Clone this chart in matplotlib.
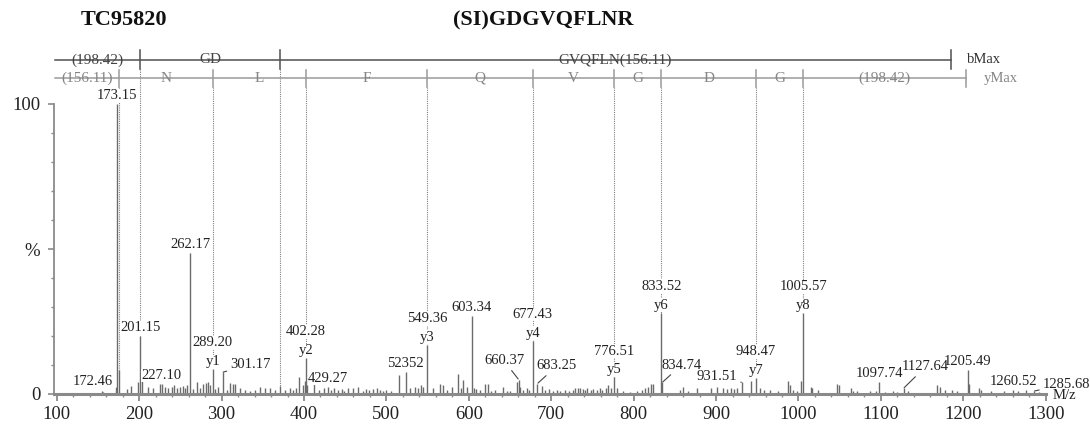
import matplotlib
matplotlib.use("Agg")
import matplotlib.pyplot as plt
from matplotlib.ticker import FixedLocator

plt.rcParams['font.family'] = ['Liberation Serif', 'DejaVu Serif']

# ---------------- data ----------------
title_left = "TC95820"
title_peptide = "(SI)GDGVQFLNR"

# labelled single peaks (m/z, intensity %, text)
plain_mz = [173.15, 201.15, 262.17, 227.10, 429.27, 523.52, 603.34, 1097.74, 1205.49, 1260.52]
plain_int = [100.0, 20.0, 48.7, 3.5, 2.5, 7.5, 27.0, 4.3, 8.4, 1.5]
plain_txt = ["173.15", "201.15", "262.17", "227.10", "429.27", "52352", "603.34", "1097.74", "1205.49", "1260.52"]

# labelled peaks with leader lines
lead_mz = [172.46, 301.17, 660.37, 683.25, 834.74, 931.51, 1127.64, 1285.68]
lead_int = [2.0, 7.5, 5.0, 3.6, 4.0, 4.0, 2.0, 1.0]
lead_txt = ["172.46", "301.17", "660.37", "683.25", "834.74", "931.51", "1127.64", "1285.68"]

# matched y ions
ion_mz = [289.20, 402.28, 549.36, 677.43, 776.51, 833.52, 948.47, 1005.57]
ion_int = [8.5, 12.3, 16.9, 18.3, 5.7, 28.0, 5.4, 27.8]
ion_name = ["y1", "y2", "y3", "y4", "y5", "y6", "y7", "y8"]

# unlabelled minor peaks
minor_mz = [154.6, 156.6, 175.12, 184.9, 189.8, 199.0, 203.0,
            211, 217, 225, 231.4, 235.4, 239.5, 242, 245.6, 249.6, 253, 256, 258, 265, 269.8,
            273.9, 277.7, 281.6, 284, 286, 292, 296, 306, 310, 314,
            316, 322, 328, 334, 340.5, 346.7, 352.8, 358.8, 365, 371, 377, 383, 387, 390,
            394.3, 398.5, 401.3,
            404, 412.2, 418, 424, 433, 437, 441, 446, 449, 453.8, 459.9, 466, 471, 475, 479,
            484, 488, 492, 496, 500, 505,
            515.7, 528.6, 535, 538, 542, 545, 557, 565, 569, 574, 579, 586.5, 590, 593, 597.5,
            606, 609, 613, 619.6, 623.7, 627, 631.8, 641.9, 646, 650, 658, 662, 666, 670, 673,
            688.4, 692, 697, 702, 707, 711,
            717, 721, 726.6, 729, 732, 735, 738, 741, 744, 748, 751, 755, 759, 762, 766, 769.3,
            773, 779.4, 787.5, 795,
            803.7, 809.8, 814, 818, 821, 824, 856, 860.2, 866.3, 877.3, 893.5,
            900.8, 908, 913, 918, 922, 926, 942, 953.3, 958, 965, 975, 987.6, 989.7, 993, 997.8,
            1003.5, 1015, 1017, 1024, 1046.4, 1049.5, 1063.7, 1066, 1070.6, 1086.8, 1094,
            1105, 1115, 1120, 1133.3, 1167.7, 1171.8, 1177.8, 1185.9, 1192, 1206.5, 1218.6,
            1221.8, 1233.9, 1250, 1266.3, 1276.3, 1292]
minor_int = [1.2, 0.8, 8.3, 1.7, 2.6, 4.0, 5.0,
             2.5, 2.0, 3.5, 2.5, 2.0, 2.5, 3.0, 2.2, 2.3, 2.8, 2.0, 3.0, 1.8, 4.0,
             2.0, 3.6, 3.8, 4.2, 3.2, 1.8, 2.5, 1.5, 3.9, 3.4,
             3.5, 2.0, 1.5, 1.2, 1.5, 2.5, 2.0, 2.0, 1.5, 2.7, 1.5, 2.0, 1.5, 2.0,
             6.0, 3.0, 4.5,
             3.0, 3.7, 1.5, 2.0, 1.5, 2.0, 1.5, 1.8, 1.2, 2.0, 2.0, 2.5, 1.2, 1.8, 1.5,
             1.8, 2.2, 1.5, 1.2, 1.5, 1.0,
             6.5, 2.0, 2.5, 2.0, 3.0, 2.5, 2.0, 3.5, 3.0, 1.5, 2.5, 6.8, 2.0, 4.8, 2.5,
             2.0, 1.8, 1.5, 3.6, 3.6, 1.2, 1.5, 2.5, 1.0, 1.2, 4.0, 2.5, 1.5, 2.0, 1.5,
             2.8, 1.5, 1.8, 1.2, 1.5, 1.0,
             1.5, 1.2, 1.5, 2.2, 2.0, 2.0, 1.8, 1.5, 2.0, 1.5, 1.8, 1.5, 2.0, 1.5, 2.0, 3.0,
             2.0, 2.0, 1.0, 0.8,
             1.0, 1.5, 2.0, 2.5, 3.5, 3.5, 1.5, 2.5, 1.0, 2.0, 2.0,
             2.5, 2.0, 1.8, 2.0, 1.8, 2.0, 4.5, 2.0, 1.5, 1.5, 1.0, 4.6, 3.0, 1.5, 1.2,
             4.5, 2.5, 2.0, 1.5, 3.5, 3.0, 2.0, 1.2, 1.0, 1.0, 1.0,
             0.8, 1.0, 0.8, 1.0, 3.0, 2.5, 1.5, 1.5, 1.0, 3.5, 2.0,
             1.5, 1.0, 1.0, 1.0, 1.5, 0.8]

# sequence ladders
b_bounds = [98, 201.15, 371.0, 1185]
b_labels = ["(198.42)", "GD", "GVQFLN(156.11)"]
y_bounds = [98, 175.12, 289.20, 402.28, 549.36, 677.43, 776.51, 833.52, 948.47, 1005.57, 1203]
y_labels = ["(156.11)", "N", "L", "F", "Q", "V", "G", "D", "G", "(198.42)"]

x_ticks = list(range(100, 1301, 100))

# ---------------- style ----------------
W, H = 1090, 429
fig = plt.figure(figsize=(W / 100, H / 100), dpi=100)
ax = fig.add_axes([54.3 / W, 1 - 394 / H, (1045.7 - 54.3) / W, 290 / H])
ax.set_xlim(97, 1300)
ax.set_ylim(0, 100)

PEAK = '#6b6b6b'
AXC = '#8a8a8a'
TXT = '#222222'
FS = 10.5

all_mz = plain_mz + lead_mz + ion_mz + minor_mz
all_int = plain_int + lead_int + ion_int + minor_int
ax.vlines(all_mz, 0, all_int, color=PEAK, lw=1.0, zorder=2)

def height_at(m):
    best = min(range(len(all_mz)), key=lambda i: abs(all_mz[i] - m))
    return all_int[best]

# ladders
B_Y, Y_Y = 115.2, 108.9
ax.plot([b_bounds[0], b_bounds[-1]], [B_Y, B_Y], color='#505050', lw=1.1, clip_on=False)
ax.plot([y_bounds[0], y_bounds[-1]], [Y_Y, Y_Y], color='#9a9a9a', lw=1.1, clip_on=False)
for m in b_bounds[1:]:
    ax.plot([m, m], [112.2, 118.7], color='#505050', lw=1.1, clip_on=False)
for m in y_bounds[1:]:
    ax.plot([m, m], [105.8, 111.8], color='#9a9a9a', lw=1.1, clip_on=False)
for m in b_bounds[1:-1]:
    ax.plot([m, m], [112.2, height_at(m)], color='#808080', lw=0.8, ls=(0, (1, 1)),
            clip_on=False, zorder=1)
for m in y_bounds[1:-1]:
    ax.plot([m, m], [105.8, height_at(m)], color='#808080', lw=0.8, ls=(0, (1, 1)),
            clip_on=False, zorder=1)
for i, lab in enumerate(b_labels):
    ax.text((b_bounds[i] + b_bounds[i + 1]) / 2, B_Y, lab, ha='center', va='center',
            fontsize=11, color='#444444', clip_on=False)
for i, lab in enumerate(y_labels):
    ax.text((y_bounds[i] + y_bounds[i + 1]) / 2, Y_Y, lab, ha='center', va='center',
            fontsize=11, color='#858585', clip_on=False)
ax.text(1204, B_Y, "bMax", ha='left', va='center', fontsize=10.5, color='#333333', clip_on=False)
ax.text(1225, Y_Y, "yMax", ha='left', va='center', fontsize=10.5, color='#858585', clip_on=False)

box = dict(facecolor='white', edgecolor='none', pad=0.3)
for m, h, t in zip(plain_mz, plain_int, plain_txt):
    ax.annotate(t, (m, h), xytext=(0, 6), textcoords='offset points', ha='center',
                va='center', fontsize=FS, color=TXT, bbox=box, zorder=4, annotation_clip=False)
for m, h, t in zip(ion_mz, ion_int, ion_name):
    ax.annotate(t, (m, h), xytext=(0, 5.5), textcoords='offset points', ha='center',
                va='center', fontsize=FS, color=TXT, bbox=box, zorder=4)
    ax.annotate(f"{m:.2f}", (m, h), xytext=(0, 19), textcoords='offset points', ha='center',
                va='center', fontsize=FS, color=TXT, bbox=box, zorder=4)

lead_off = [(-17, 5), (20, 5.3), (-10.5, 13.5), (14, 12.7), (13.8, 12.5), (-18, 4),
            (15.6, 15.3), (23.4, 5)]
for m, h, t, off in zip(lead_mz, lead_int, lead_txt, lead_off):
    ax.annotate(t, (m, h), xytext=off, textcoords='offset points', ha='center', va='center',
                fontsize=FS, color=TXT, zorder=4, annotation_clip=False,
                arrowprops=dict(arrowstyle='-', color='#444444', lw=0.8, shrinkA=0.5, shrinkB=0.5))

ax.text(1308, -0.6, "M/z", ha='left', va='center', fontsize=FS, color=TXT, clip_on=False)

# axes
for s in ['top', 'right']:
    ax.spines[s].set_visible(False)
ax.spines['left'].set_color(AXC)
ax.spines['left'].set_linewidth(1.3)
ax.spines['bottom'].set_color(AXC)
ax.spines['bottom'].set_linewidth(2.2)

ax.xaxis.set_major_locator(FixedLocator(x_ticks))
ax.xaxis.set_minor_locator(FixedLocator([v for v in range(100, 1301, 20) if v % 100]))
ax.set_xticklabels([str(v) for v in x_ticks])
ax.tick_params(axis='x', which='major', length=5, width=1.3, color=AXC, labelsize=13.5,
               pad=3.4, labelcolor=TXT)
ax.tick_params(axis='x', which='minor', length=2.5, width=1.0, color=AXC)

ax.yaxis.set_major_locator(FixedLocator([0, 50, 100]))
ax.set_yticklabels(['0', '%', '100'])
ax.yaxis.set_minor_locator(FixedLocator([10, 20, 30, 40, 60, 70, 80, 90]))
ax.tick_params(axis='y', which='major', length=4, width=1.2, color=AXC, labelsize=13.5,
               pad=6, labelcolor=TXT)
ax.tick_params(axis='y', which='minor', length=2, width=1.0, color=AXC)

fig.text(124 / W, 1 - 20 / H, title_left, ha='center', va='center', fontsize=16,
         fontweight='bold', color='#111111')
fig.text(543 / W, 1 - 20 / H, title_peptide, ha='center', va='center', fontsize=16,
         fontweight='bold', color='#111111')

fig.savefig("out.png", dpi=100)
